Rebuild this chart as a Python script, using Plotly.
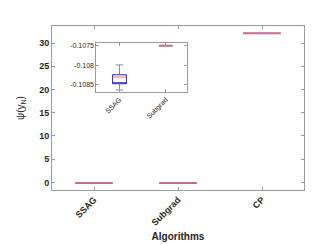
import plotly.graph_objects as go

# ---- data ----
algorithms = ["SSAG", "Subgrad", "CP"]
lower_whisker = [-0.10863, -0.1075, 32.1]
q1_vals = [-0.10847, -0.1075, 32.1]
median_vals = [-0.10830, -0.1075, 32.1]
q3_vals = [-0.10824, -0.1075, 32.1]
upper_whisker = [-0.10799, -0.1075, 32.1]

inset_algorithms = ["SSAG", "Subgrad"]
main_yticks = [0, 5, 10, 15, 20, 25, 30]
inset_yticks = [-0.1085, -0.108, -0.1075]
inset_yticktext = ["-0.1085", "-0.108", "-0.1075"]

FONT = "Liberation Sans, Arial, Helvetica, sans-serif"
TXT = "#262626"
AX = "#9a9a9a"

# styles: collapsed boxes render as pale mauve lines
PALE = dict(whisk="rgba(90,60,90,0.25)", box="rgba(0,0,255,0.2)",
            med="rgba(255,0,0,0.32)", lw_box=2, lw_med=2, lw_wh=2)
OPEN = dict(whisk="#8a8a8a", box="rgba(0,0,255,0.6)",
            med="rgba(255,0,0,0.3)", lw_box=1, lw_med=2, lw_wh=1)

fig = go.Figure()


def add_box(i, xa, ya, width, st):
    cat = [algorithms[i]]
    common = dict(x=cat, fillcolor="rgba(0,0,0,0)", width=width,
                  xaxis=xa, yaxis=ya, showlegend=False, hoverinfo="skip",
                  boxpoints=False)
    # whiskers with caps
    fig.add_trace(go.Box(
        q1=[q1_vals[i]], median=[q1_vals[i]], q3=[q3_vals[i]],
        lowerfence=[lower_whisker[i]], upperfence=[upper_whisker[i]],
        line=dict(color=st["whisk"], width=st["lw_wh"]),
        whiskerwidth=0.55, **common))
    # blue box
    fig.add_trace(go.Box(
        q1=[q1_vals[i]], median=[q1_vals[i]], q3=[q3_vals[i]],
        lowerfence=[q1_vals[i]], upperfence=[q3_vals[i]],
        line=dict(color=st["box"], width=st["lw_box"]),
        whiskerwidth=0, **common))
    # red median
    fig.add_trace(go.Box(
        q1=[median_vals[i]], median=[median_vals[i]], q3=[median_vals[i]],
        lowerfence=[median_vals[i]], upperfence=[median_vals[i]],
        line=dict(color=st["med"], width=st["lw_med"]),
        whiskerwidth=0, **common))


# main axes: every box collapses to a line at this scale
for i in range(len(algorithms)):
    add_box(i, "x", "y", 0.45, PALE)

# inset
for i in range(len(inset_algorithms)):
    st = PALE if q1_vals[i] == q3_vals[i] else OPEN
    add_box(i, "x2", "y2", 0.30, st)

axis_common = dict(showline=True, linecolor=AX, linewidth=1, mirror="ticks",
                   ticks="inside", ticklen=3, tickcolor=AX, showgrid=False,
                   zeroline=False)

fig.update_layout(
    width=327, height=245,
    margin=dict(l=42, r=31, t=18, b=54),
    paper_bgcolor="white", plot_bgcolor="white",
    font=dict(family=FONT, color=TXT),
    boxmode="overlay",
    xaxis=dict(**axis_common, type="category", categoryorder="array",
               categoryarray=algorithms, range=[-0.5, 2.5], tickangle=-45,
               tickfont=dict(size=9, weight="bold"),
               title=dict(text="Algorithms", font=dict(size=10, weight="bold"),
                          standoff=6)),
    yaxis=dict(**axis_common, range=[-1.63, 33.67], tickvals=main_yticks,
               tickfont=dict(size=9, weight="bold"),
               title=dict(text="ψ(y<sub>N</sub>)", font=dict(size=10),
                          standoff=12)),
    xaxis2=dict(**axis_common, type="category", categoryorder="array",
                categoryarray=inset_algorithms, range=[-0.5, 1.45],
                tickangle=-45, tickfont=dict(size=7),
                domain=[0.176, 0.534], anchor="y2"),
    yaxis2=dict(**axis_common, range=[-0.10868, -0.10743],
                tickvals=inset_yticks, ticktext=inset_yticktext,
                tickfont=dict(size=7), domain=[0.598, 0.896], anchor="x2"),
)

fig.write_html("out.html")
